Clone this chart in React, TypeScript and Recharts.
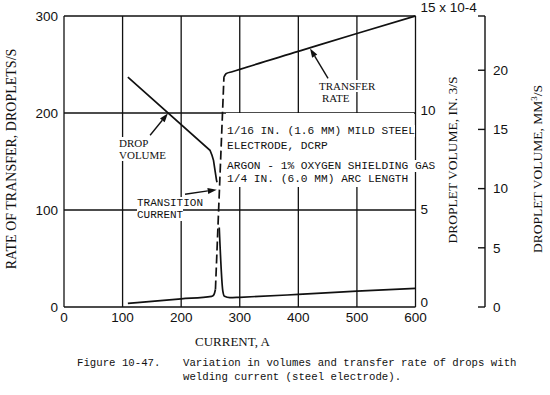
import React from "react";
import { LineChart, Line, XAxis, YAxis, CartesianGrid, ReferenceLine } from "recharts";

// axis ticks
const currentTicks = [0, 100, 200, 300, 400, 500, 600];
const rateTicks = [0, 100, 200, 300];
const volInTicks = [0, 5, 10, 15];
const volMmTicks = [0, 5, 10, 15, 20, 24.58];

// 1e-4 in.3 expressed in mm3
const MM3_PER_IN3_E4 = 1.6387;

// transfer rate, droplets/s (left axis)
const rateGlobular = [
  { current: 109, rate: 3.8 },
  { current: 200, rate: 8.4 },
  { current: 252, rate: 11 },
  { current: 255, rate: 12 },
  { current: 257, rate: 14.5 },
  { current: 258.5, rate: 18 },
];
const rateTransition = [
  { current: 258.5, rate: 18 },
  { current: 273, rate: 237 },
];
const rateSpray = [
  { current: 273, rate: 237 },
  { current: 276.5, rate: 240.5 },
  { current: 287, rate: 242.5 },
  { current: 300, rate: 245 },
  { current: 400, rate: 263.5 },
  { current: 500, rate: 282 },
  { current: 600, rate: 300 },
];

// droplet volume, in.3/s x 10-4 (inner right axis)
const volumeGlobular = [
  { current: 109, volume: 11.85 },
  { current: 249.2, volume: 8.08 },
  { current: 252.6, volume: 7.82 },
  { current: 255.2, volume: 7.56 },
  { current: 257.7, volume: 7.05 },
  { current: 260.3, volume: 6.54 },
  { current: 261.2, volume: 6.43 },
];
const volumeSpray = [
  { current: 265, volume: 4.1 },
  { current: 271, volume: 0.85 },
  { current: 274, volume: 0.55 },
  { current: 283, volume: 0.48 },
  { current: 300, volume: 0.5 },
  { current: 400, volume: 0.65 },
  { current: 500, volume: 0.82 },
  { current: 600, volume: 0.96 },
];

// annotation arrows, in (current, rate) coordinates: tail -> tip
const arrows = [
  { tail: [147, 177], tip: [177.5, 199.7] },
  { tail: [206.6, 116.3], tip: [260.7, 121] },
  { tail: [450.7, 235.8], tip: [420, 266.6] },
];

const INK = "#111";
const serif = "'Liberation Serif', 'Times New Roman', serif";
const mono = "'Liberation Mono', 'DejaVu Sans Mono', monospace";
const sans = "'Liberation Sans', Arial, sans-serif";

const Arrow = (p: any) => {
  const { x1, y1, x2, y2 } = p;
  const a = Math.atan2(y2 - y1, x2 - x1);
  const len = 9;
  const w = 3;
  const bx = x2 - len * Math.cos(a);
  const by = y2 - len * Math.sin(a);
  const pts = `${x2},${y2} ${bx - w * Math.sin(a)},${by + w * Math.cos(a)} ${bx + w * Math.sin(a)},${by - w * Math.cos(a)}`;
  return (
    <g>
      <line x1={x1} y1={y1} x2={bx} y2={by} stroke={INK} strokeWidth={1.4} />
      <polygon points={pts} fill={INK} />
    </g>
  );
};

const InTick = (p: any) => {
  const { x, y, payload } = p;
  const v = payload.value;
  const shift = v === 15 ? -8.5 : v === 0 ? -5 : v === 10 ? -3 : -1;
  return (
    <text x={x + 5} y={y + shift} dy="0.35em" textAnchor="start" fill={INK} fontSize={13.5} fontFamily={sans}>
      {v === 15 ? "15 x 10-4" : v}
    </text>
  );
};

const MmTick = (p: any) => {
  const { x, y, payload } = p;
  const v = payload.value;
  return (
    <g>
      <line x1={x - 7} y1={y} x2={x} y2={y} stroke={INK} strokeWidth={1.4} />
      {v <= 20 && (
        <text x={x + 8} y={y} dy="0.35em" textAnchor="start" fill={INK} fontSize={13.5} fontFamily={sans}>
          {v}
        </text>
      )}
    </g>
  );
};

const Note = ({ left, top, size, font, children }: any) => (
  <div
    style={{
      position: "absolute",
      left,
      top,
      fontSize: size,
      lineHeight: `${size}px`,
      fontFamily: font,
      color: INK,
      whiteSpace: "pre",
    }}
  >
    <span style={{ background: "#fff" }}>{children}</span>
  </div>
);

const VTitle = ({ cx, cy, size, children }: any) => (
  <div
    style={{
      position: "absolute",
      left: cx,
      top: cy,
      transform: "translate(-50%, -50%) rotate(-90deg)",
      fontSize: size,
      lineHeight: `${size}px`,
      fontFamily: serif,
      color: INK,
      whiteSpace: "nowrap",
    }}
  >
    {children}
  </div>
);

export default function App() {
  return (
    <div style={{ position: "absolute", left: 0, top: 0, width: 550, height: 395, background: "#fff", overflow: "hidden" }}>
      <LineChart width={550} height={395} margin={{ top: 16, right: 0, left: 0, bottom: 58 }}>
        <CartesianGrid yAxisId="rate" stroke={INK} strokeWidth={1.3} />
        <XAxis
          dataKey="current"
          type="number"
          domain={[0, 600]}
          ticks={currentTicks}
          height={30}
          axisLine={false}
          tickLine={false}
          tickSize={0}
          tickMargin={5}
          tick={{ fill: INK, fontSize: 13.5, fontFamily: sans }}
        />
        <YAxis
          yAxisId="rate"
          domain={[0, 300]}
          ticks={rateTicks}
          width={64}
          axisLine={false}
          tickLine={false}
          tickSize={0}
          tickMargin={6}
          tick={{ fill: INK, fontSize: 13.5, fontFamily: sans }}
        />
        <YAxis
          yAxisId="in"
          orientation="right"
          domain={[0, 15]}
          ticks={volInTicks}
          width={69.5}
          axisLine={false}
          tickLine={false}
          tickSize={0}
          tickMargin={0}
          tick={<InTick />}
        />
        <YAxis
          yAxisId="mm"
          orientation="right"
          domain={[0, 24.58]}
          allowDataOverflow
          ticks={volMmTicks}
          interval={0}
          width={65}
          axisLine={{ stroke: INK, strokeWidth: 1.4 }}
          tickLine={false}
          tickSize={0}
          tickMargin={0}
          tick={<MmTick />}
        />
        <Line data={rateGlobular} yAxisId="rate" dataKey="rate" type="monotone" stroke={INK} strokeWidth={1.7} dot={false} activeDot={false} isAnimationActive={false} />
        <Line data={rateTransition} yAxisId="rate" dataKey="rate" type="linear" stroke={INK} strokeWidth={1.7} strokeDasharray="9 4" dot={false} activeDot={false} isAnimationActive={false} />
        <Line data={rateSpray} yAxisId="rate" dataKey="rate" type="monotone" stroke={INK} strokeWidth={1.7} dot={false} activeDot={false} isAnimationActive={false} />
        <Line data={volumeGlobular} yAxisId="in" dataKey="volume" type="linear" stroke={INK} strokeWidth={1.7} dot={false} activeDot={false} isAnimationActive={false} />
        {/* same volumes, drawn through the mm3/s scale */}
        <Line
          data={volumeSpray}
          yAxisId="mm"
          dataKey={(d: any) => d.volume * MM3_PER_IN3_E4}
          type="monotone"
          stroke={INK}
          strokeWidth={1.7}
          dot={false}
          activeDot={false}
          isAnimationActive={false}
        />
        {arrows.map((a, i) => (
          <ReferenceLine
            key={i}
            yAxisId="rate"
            segment={[
              { x: a.tail[0], y: a.tail[1] },
              { x: a.tip[0], y: a.tip[1] },
            ]}
            ifOverflow="visible"
            shape={Arrow}
          />
        ))}
      </LineChart>

      {/* text block with blank backing over the grid */}
      <div style={{ position: "absolute", left: 226, top: 113, width: 188, height: 74, background: "#fff" }} />
      <Note left={227} top={126.4} size={11.2} font={mono}>1/16 IN. (1.6 MM) MILD STEEL</Note>
      <Note left={227} top={140.9} size={11.2} font={mono}>ELECTRODE, DCRP</Note>
      <Note left={227} top={160.9} size={11.2} font={mono}>ARGON - 1% OXYGEN SHIELDING GAS</Note>
      <Note left={227} top={174.4} size={11.2} font={mono}>1/4 IN. (6.0 MM) ARC LENGTH</Note>

      <Note left={119} top={137.5} size={11} font={serif}>DROP</Note>
      <Note left={119} top={149.5} size={11} font={serif}>VOLUME</Note>
      <Note left={137} top={197.5} size={11} font={mono}>TRANSITION</Note>
      <Note left={137} top={209.5} size={11} font={mono}>CURRENT</Note>
      <Note left={319} top={80.5} size={11} font={serif}>TRANSFER</Note>
      <Note left={322} top={92.5} size={11} font={serif}>RATE</Note>

      <VTitle cx={12} cy={158.5} size={14}>RATE OF TRANSFER, DROPLETS/S</VTitle>
      <VTitle cx={453} cy={160} size={13.5}>DROPLET VOLUME, IN. 3/S</VTitle>
      <VTitle cx={538} cy={169} size={13.5}>
        DROPLET VOLUME, MM<sup style={{ fontSize: 9, verticalAlign: "super", lineHeight: 0 }}>3</sup>/S
      </VTitle>

      <Note left={195} top={334.5} size={13} font={serif}>CURRENT, A</Note>
      <Note left={77} top={357.6} size={10.7} font={mono}>Figure 10-47.</Note>
      <Note left={183} top={357.6} size={10.7} font={mono}>Variation in volumes and transfer rate of drops with</Note>
      <Note left={183} top={371.6} size={10.7} font={mono}>welding current (steel electrode).</Note>
    </div>
  );
}
